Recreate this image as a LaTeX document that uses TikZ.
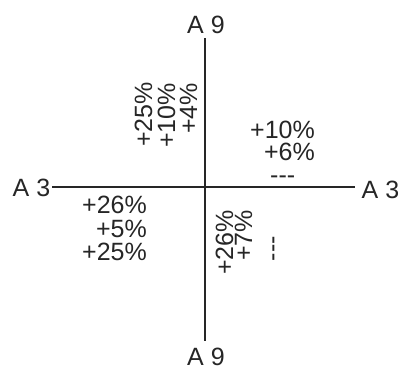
\documentclass[tikz,border=0pt]{standalone}
\usepackage{fontspec}
\setmainfont{Liberation Sans}
\begin{document}
\begin{tikzpicture}[x=1pt,y=1pt,
  axis/.style={line width=2pt,draw=black!85},
  lbl/.style={inner sep=0pt,font=\fontsize{25}{30}\selectfont,text=black!85},
  vlbl/.style={lbl,rotate=90,anchor=base east}]
\useasboundingbox (0,0) rectangle (398,-367);
% axis end points
\coordinate (top) at (205,-38);
\coordinate (bot) at (205,-341);
\coordinate (lft) at (52,-187);
\coordinate (rgt) at (355,-187);
\draw[axis] (top) -- (bot);
\draw[axis] (lft) -- (rgt);
% axis labels
\node[lbl,anchor=base] (a9t) at (206,-33) {A 9};
\node[lbl,anchor=base] (a9b) at (206,-365) {A 9};
\node[lbl,anchor=base] (a3l) at (31.5,-196) {A 3};
\node[lbl,anchor=base west] (a3r) at (361.5,-198) {A 3};
% upper left (rotated)
\node[vlbl] (ul1) at (152,-82) {+25\%};
\node[vlbl] (ul2) at (175,-83) {+10\%};
\node[vlbl] (ul3) at (197,-83) {+4\%};
% upper right
\node[lbl,anchor=base east] (ur1) at (315,-138) {+10\%};
\node[lbl,anchor=base east] (ur2) at (315,-160) {+6\%};
\node[lbl,anchor=base west] (ur3) at (270,-183.5) {-{}-{}-};
% lower left
\node[lbl,anchor=base east] (ll1) at (147,-213) {+26\%};
\node[lbl,anchor=base east] (ll2) at (147,-237) {+5\%};
\node[lbl,anchor=base east] (ll3) at (147,-260) {+25\%};
% lower right (rotated)
\node[vlbl] (lr1) at (233,-210) {+26\%};
\node[vlbl] (lr2) at (252,-210) {+7\%};
\node[vlbl] (lr3) at (280,-236) {-{}-{}-};
\end{tikzpicture}
\end{document}
